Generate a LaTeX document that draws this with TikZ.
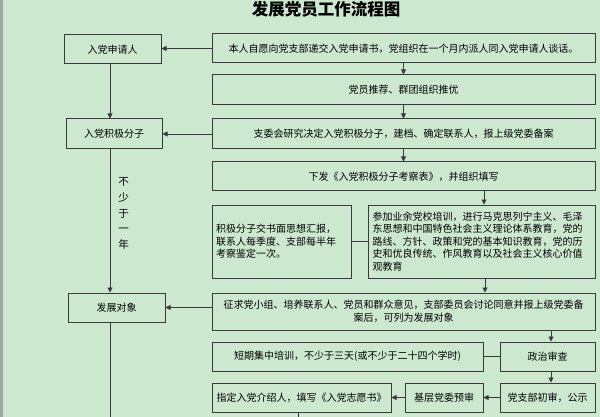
\documentclass[tikz,border=0pt]{standalone}
\usepackage{fontspec}
\setmainfont{Noto Sans CJK SC}
\usetikzlibrary{arrows.meta}
\definecolor{bgc}{HTML}{CCE8CF}
\definecolor{lc}{HTML}{3A3A3A}
\definecolor{strip}{HTML}{A4A4AC}
\tikzset{
  box/.style={draw=lc, line width=1pt, inner sep=2pt, font=\fontsize{10}{12.5}\selectfont, text=black},
  conn/.style={draw=lc, line width=0.9pt},
  arr/.style={conn, -{Triangle[length=5pt,width=5pt]}}
}
\begin{document}
\begin{tikzpicture}[x=1pt,y=-1pt]
\useasboundingbox (0,0) rectangle (600,417);
\fill[bgc] (0,0) rectangle (600,417);
\fill[strip] (0,0) rectangle (3,417);
% title
\node[font=\fontsize{16.5}{18}\selectfont\bfseries] (title) at (326,9) {发展党员工作流程图};
% left column
\node[box, minimum width=97pt, minimum height=29pt] (b1) at (112.5,49.5) {入党申请人};
\node[box, minimum width=96pt, minimum height=30pt] (jj) at (114,134) {入党积极分子};
\node[box, minimum width=97pt, minimum height=29pt] (fz) at (116.5,307.5) {发展对象};
% right column
\node[box, minimum width=383pt, minimum height=29pt] (r1) at (403.5,48.5) {本人自愿向党支部递交入党申请书，党组织在一个月内派人同入党申请人谈话。};
\node[box, minimum width=383pt, minimum height=30pt] (r2) at (403.5,90) {党员推荐、群团组织推优};
\node[box, minimum width=383pt, minimum height=30pt] (r3) at (403.5,134) {支委会研究决定入党积极分子，建档、确定联系人，报上级党委备案};
\node[box, minimum width=383pt, minimum height=29pt] (r4) at (403.5,176.5) {下发《入党积极分子考察表》，并组织填写};
\node[box, minimum width=139pt, minimum height=73pt, align=left, text width=131pt] (r5) at (281.5,241.5) {积极分子交书面思想汇报，\\联系人每季度、支部每半年\\考察鉴定一次。};
\node[box, minimum width=227pt, minimum height=73pt, align=left, text width=218pt] (r6) at (481.5,241.5) {参加业余党校培训，进行马克思列宁主义、毛泽\\东思想和中国特色社会主义理论体系教育，党的\\路线、方针、政策和党的基本知识教育，党的历\\史和优良传统、作风教育以及社会主义核心价值\\观教育};
\node[box, minimum width=383pt, minimum height=37pt, align=center] (r7) at (403.5,311.5) {征求党小组、培养联系人、党员和群众意见，支部委员会讨论同意并报上级党委备\\案后，可列为发展对象};
\node[box, minimum width=271pt, minimum height=29pt] (r8) at (347.5,356.5) {短期集中培训，不少于三天(或不少于二十四个学时)};
\node[box, minimum width=95pt, minimum height=29pt] (r9) at (547.5,356.5) {政治审查};
\node[box, minimum width=95pt, minimum height=29pt] (r10) at (547.5,397.5) {党支部初审，公示};
\node[box, minimum width=78pt, minimum height=29pt] (r11) at (444,397.5) {基层党委预审};
\node[box, minimum width=179pt, minimum height=29pt] (r12) at (301.5,397.5) {指定入党介绍人，填写《入党志愿书》};
% vertical label
\node[font=\fontsize{10.5}{15.7}\selectfont, align=center, inner sep=0pt] (yr) at (123.6,213.5) {不\\少\\于\\一\\年};
% helper coordinates
\coordinate (L) at (110,0);
\coordinate (bot) at (0,417);
\coordinate (a4) at (484,0);
\coordinate (a6) at (485,0);
\coordinate (a7) at (551,0);
\coordinate (a12) at (298,0);
% connectors
\draw[arr] (r1.west) -- (r1.west -| b1.east);
\draw[arr] (r1.south) -- (r2.north);
\draw[arr] (r2.south) -- (r3.north);
\draw[arr] (r3.west) -- (r3.west -| jj.east);
\draw[arr] (r3.south) -- (r4.north);
\draw[arr] (r4.south -| a4) -- (r6.north -| a4);
\draw[conn] (r5.east) -- (r6.west);
\draw[arr] (r6.south -| a6) -- (r7.north -| a6);
\draw[arr] (fz.east -| r7.west) -- (fz.east);
\draw[arr] (r7.south -| a7) -- (r9.north -| a7);
\draw[conn] (r9.west) -- (r8.east);
\draw[arr] (r9.south -| a7) -- (r10.north -| a7);
\draw[arr] (r10.west) -- (r11.east);
\draw[arr] (r11.west) -- (r12.east);
\draw[conn] (r12.south -| a12) -- (bot -| a12);
\draw[arr] (b1.south -| L) -- (jj.north -| L);
\draw[arr] (jj.south -| L) -- (fz.north -| L);
\draw[conn] (fz.south -| L) -- (bot -| L);
\end{tikzpicture}
\end{document}
